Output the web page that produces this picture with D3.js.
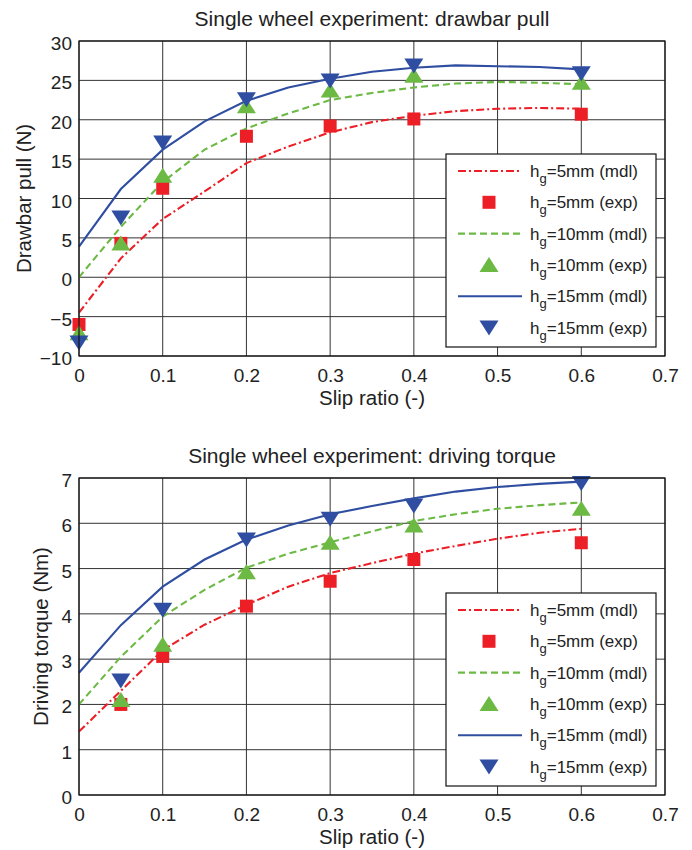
<!DOCTYPE html>
<html>
<head>
<meta charset="utf-8">
<script src="https://cdn.jsdelivr.net/npm/d3@7"></script>
<style>
  body { margin: 0; background: #fff; }
  svg text { font-family: "Liberation Sans", Arial, sans-serif; fill: #222; }
</style>
</head>
<body>
<div id="chart"></div>
<script>
// slip ratio grids
const slipMdl = [0, 0.05, 0.1, 0.15, 0.2, 0.25, 0.3, 0.35, 0.4, 0.45, 0.5, 0.55, 0.6];
const slipExpPull = [0, 0.05, 0.1, 0.2, 0.3, 0.4, 0.6];
const slipExpTorque = [0.05, 0.1, 0.2, 0.3, 0.4, 0.6];

// drawbar pull (N)
const pull5Mdl  = [-4.5, 2.4, 7.4, 10.9, 14.5, 16.6, 18.4, 19.7, 20.5, 21.1, 21.4, 21.5, 21.4];
const pull10Mdl = [0, 6.4, 12.1, 16.2, 18.9, 20.8, 22.5, 23.4, 24.1, 24.6, 24.8, 24.7, 24.5];
const pull15Mdl = [3.9, 11.2, 16.2, 19.8, 22.4, 24.1, 25.2, 26.1, 26.6, 26.9, 26.8, 26.7, 26.4];
const pull5Exp  = [-6.0, 4.3, 11.3, 17.9, 19.2, 20.1, 20.7];
const pull10Exp = [-7.1, 4.3, 12.9, 21.7, 23.7, 25.6, 24.7];
const pull15Exp = [-8.3, 7.6, 17.1, 22.6, 25.0, 26.9, 25.9];

// driving torque (Nm)
const torque5Mdl  = [1.4, 2.3, 3.2, 3.76, 4.2, 4.6, 4.9, 5.12, 5.33, 5.5, 5.66, 5.79, 5.88];
const torque10Mdl = [2.0, 3.05, 3.94, 4.53, 5.02, 5.33, 5.58, 5.82, 6.05, 6.2, 6.32, 6.4, 6.46];
const torque15Mdl = [2.7, 3.75, 4.6, 5.2, 5.64, 5.95, 6.2, 6.38, 6.55, 6.7, 6.8, 6.87, 6.92];
const torque5Exp  = [2.0, 3.06, 4.17, 4.72, 5.2, 5.57];
const torque10Exp = [2.1, 3.32, 4.92, 5.57, 5.95, 6.32];
const torque15Exp = [2.53, 4.09, 5.64, 6.1, 6.39, 6.89];

const xTicks = [0, 0.1, 0.2, 0.3, 0.4, 0.5, 0.6, 0.7];
const pullTicks = [-10, -5, 0, 5, 10, 15, 20, 25, 30];
const torqueTicks = [0, 1, 2, 3, 4, 5, 6, 7];
const legendLabels = ['5mm (mdl)', '5mm (exp)', '10mm (mdl)', '10mm (exp)', '15mm (mdl)', '15mm (exp)'];

const RED = '#ec1f26', GREEN = '#6cb944', BLUE = '#2f4ea2';
const W = 692, H = 850;

const svg = d3.select('#chart')
  .append('svg')
  .attr('width', W)
  .attr('height', H);

// marker shapes centred on (0,0)
function markerPath(kind) {
  if (kind === 'square') return 'M-6.5,-6.5H6.5V6.5H-6.5Z';
  if (kind === 'up') return 'M0,-8L9.5,7H-9.5Z';
  return 'M0,8L9.5,-7H-9.5Z';
}

function drawPanel(opt) {
  const left = 79, right = 665;
  const x = d3.scaleLinear().domain([0, 0.7]).range([left, right]);
  const y = d3.scaleLinear().domain(opt.yDomain).range([opt.bottom, opt.top]);
  const g = svg.append('g');

  // grid
  g.selectAll('line.gx')
    .data(xTicks)
    .enter()
    .append('line')
    .attr('x1', d => x(d)).attr('x2', d => x(d))
    .attr('y1', opt.top).attr('y2', opt.bottom)
    .attr('stroke', '#333').attr('stroke-width', 1);
  g.selectAll('line.gy')
    .data(opt.yTicks)
    .enter()
    .append('line')
    .attr('x1', left).attr('x2', right)
    .attr('y1', d => y(d)).attr('y2', d => y(d))
    .attr('stroke', '#333').attr('stroke-width', 1);

  // tick labels via d3 axes
  const xAxis = g.append('g')
    .attr('transform', `translate(0,${opt.bottom})`)
    .call(d3.axisBottom(x).tickValues(xTicks).tickFormat(d => d === 0 ? '0' : d3.format('.1f')(d)).tickSize(0).tickPadding(12));
  const yAxis = g.append('g')
    .attr('transform', `translate(${left},0)`)
    .call(d3.axisLeft(y).tickValues(opt.yTicks).tickFormat(d3.format('d')).tickSize(0).tickPadding(7));
  [xAxis, yAxis].forEach(a => {
    a.select('.domain').remove();
    a.selectAll('text').style('font-size', '19px').attr('fill', '#222')
      .style('font-family', '"Liberation Sans", Arial, sans-serif');
  });
  yAxis.selectAll('text').attr('dy', '0.45em');
  xAxis.selectAll('text').attr('dy', '0.75em');

  // model lines
  const line = d3.line().x((d, i) => x(slipMdl[i])).y(d => y(d));
  const styles = [
    { c: RED, dash: '8,3,2,3' },
    { c: GREEN, dash: '7,4' },
    { c: BLUE, dash: null }
  ];
  opt.mdl.forEach((vals, k) => {
    g.append('path')
      .attr('d', line(vals))
      .attr('fill', 'none')
      .attr('stroke', styles[k].c)
      .attr('stroke-width', 2.1)
      .attr('stroke-dasharray', styles[k].dash);
  });

  // experiment markers
  const kinds = ['square', 'up', 'down'];
  opt.exp.forEach((vals, k) => {
    g.selectAll(null)
      .data(vals)
      .enter()
      .append('path')
      .attr('d', markerPath(kinds[k]))
      .attr('transform', (d, i) => `translate(${x(opt.expX[i])},${y(d)})`)
      .attr('fill', styles[k].c);
  });

  // frame
  g.append('rect')
    .attr('x', left).attr('y', opt.top)
    .attr('width', right - left).attr('height', opt.bottom - opt.top)
    .attr('fill', 'none').attr('stroke', '#111').attr('stroke-width', 1.2);

  // title and axis labels
  g.append('text')
    .attr('x', (left + right) / 2).attr('y', opt.top - 15)
    .attr('text-anchor', 'middle').style('font-size', '21px')
    .text(opt.title);
  g.append('text')
    .attr('x', (left + right) / 2).attr('y', opt.bottom + 49)
    .attr('text-anchor', 'middle').style('font-size', '20.5px')
    .text('Slip ratio (-)');
  g.append('text')
    .attr('transform', `translate(${opt.yLabelX},${(opt.top + opt.bottom) / 2}) rotate(-90)`)
    .attr('text-anchor', 'middle').style('font-size', '20.5px')
    .text(opt.yLabel);

  // legend
  const lx = 446, lw = 210, ly = opt.legendTop, lh = 193;
  const lg = g.append('g');
  lg.append('rect')
    .attr('x', lx).attr('y', ly).attr('width', lw).attr('height', lh)
    .attr('fill', '#fff').attr('stroke', '#111').attr('stroke-width', 1.2);
  legendLabels.forEach((lab, i) => {
    const ry = ly + 17 + i * 31.3;
    const k = Math.floor(i / 2);
    if (i % 2 === 0) {
      lg.append('line')
        .attr('x1', 458).attr('x2', 522).attr('y1', ry).attr('y2', ry)
        .attr('stroke', styles[k].c).attr('stroke-width', 2.1)
        .attr('stroke-dasharray', styles[k].dash);
    } else {
      lg.append('path')
        .attr('d', markerPath(kinds[k]))
        .attr('transform', `translate(489,${ry})`)
        .attr('fill', styles[k].c);
    }
    const t = lg.append('text')
      .attr('x', 530).attr('y', ry + 6)
      .style('font-size', '17px');
    t.append('tspan').text('h');
    t.append('tspan').attr('dy', 6).style('font-size', '13px').text('g');
    t.append('tspan').attr('dy', -6).text('=' + lab);
  });
}

drawPanel({
  title: 'Single wheel experiment: drawbar pull',
  yLabel: 'Drawbar pull (N)',
  yLabelX: 31,
  top: 41, bottom: 356,
  yDomain: [-10, 30], yTicks: pullTicks,
  mdl: [pull5Mdl, pull10Mdl, pull15Mdl],
  exp: [pull5Exp, pull10Exp, pull15Exp],
  expX: slipExpPull,
  legendTop: 154
});

drawPanel({
  title: 'Single wheel experiment: driving torque',
  yLabel: 'Driving torque (Nm)',
  yLabelX: 48,
  top: 478, bottom: 795,
  yDomain: [0, 7], yTicks: torqueTicks,
  mdl: [torque5Mdl, torque10Mdl, torque15Mdl],
  exp: [torque5Exp, torque10Exp, torque15Exp],
  expX: slipExpTorque,
  legendTop: 593
});
</script>
</body>
</html>
